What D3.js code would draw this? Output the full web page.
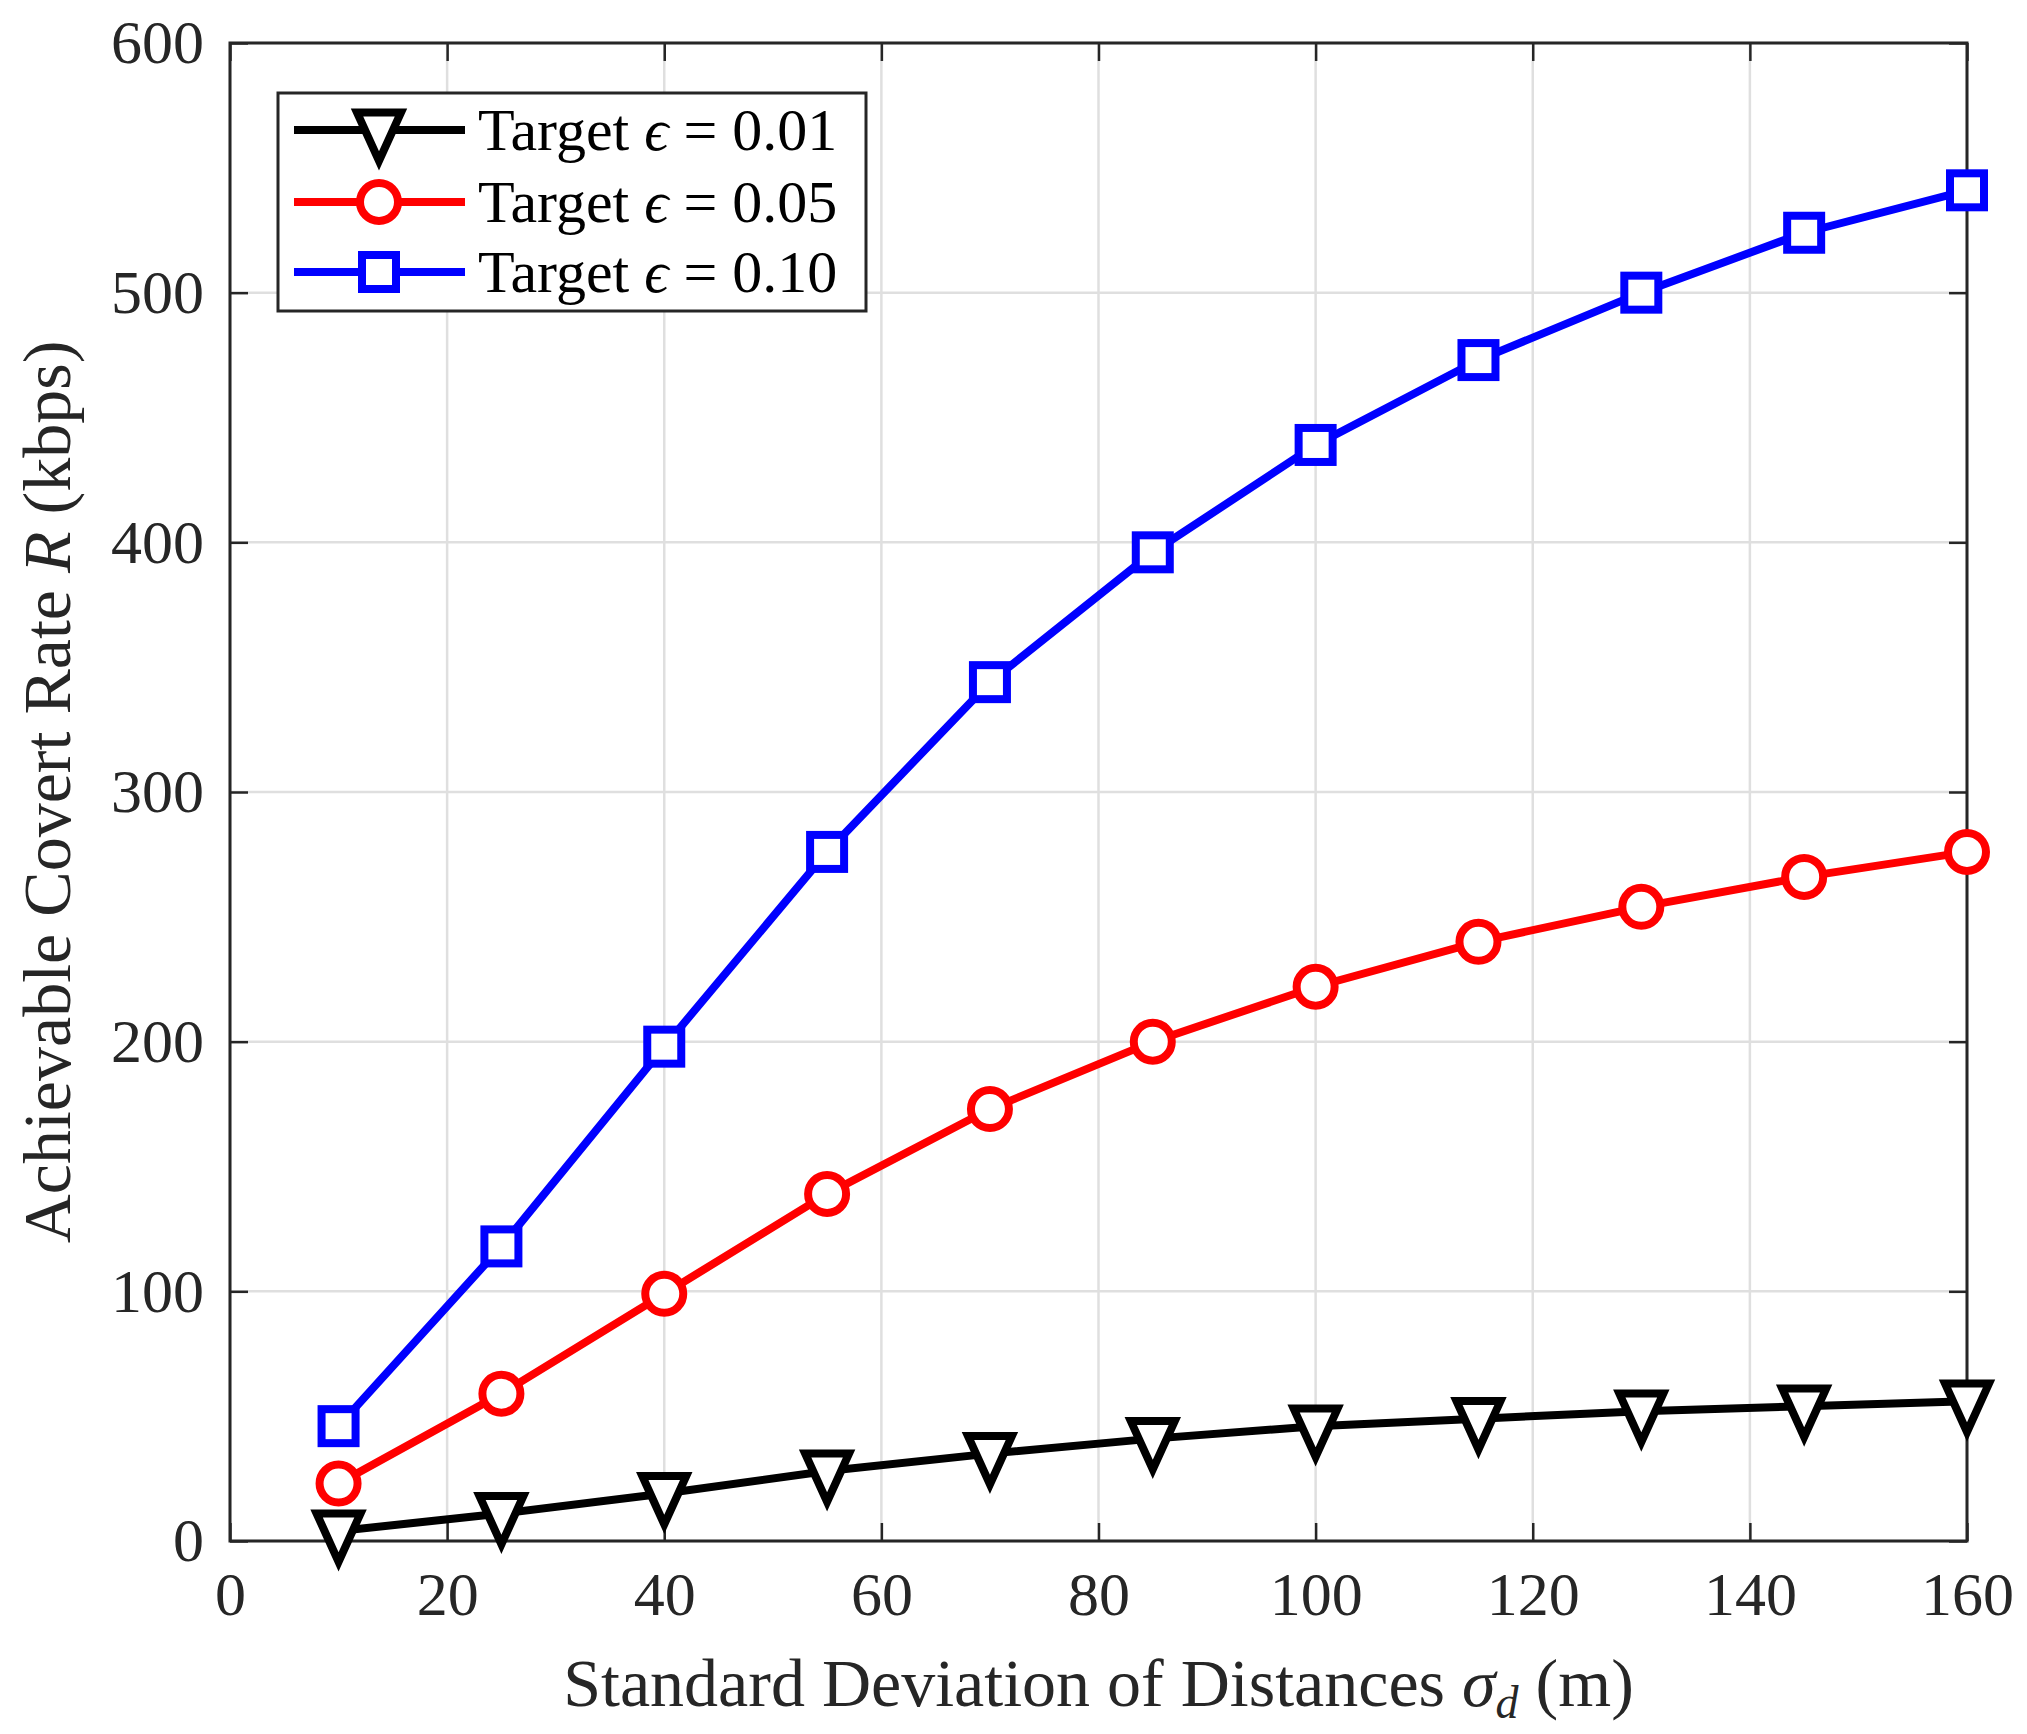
<!DOCTYPE html>
<html><head><meta charset="utf-8">
<script src="https://cdn.jsdelivr.net/npm/d3@7"></script>
<style>body{margin:0;background:#fff}svg text{font-family:"Liberation Serif","DejaVu Serif",serif;fill:#262626}</style>
</head><body><svg id="c" width="2027" height="1734"></svg>
<script>
const xs=[10,25,40,55,70,85,100,115,130,145,160];
const s001=[4,11,19,28,35,41,46,49,52,54,56];
const s005=[23,59,99,139,173,200,222,240,254,266,276];
const s010=[46,118,198,276,344,396,439,473,500,524,541];
const xTicks=[0,20,40,60,80,100,120,140,160];
const yTicks=[0,100,200,300,400,500,600];
const labels=["0.01","0.05","0.10"];
const colors=["#000","#ff0000","#0000ff"];
const markers=["tri","circ","sq"];

const L=230,R=1967,T=43,B=1541;
const SW=8;
const svg=d3.select("#c");
const x=d3.scaleLinear().domain([0,160]).range([L,R]);
const y=d3.scaleLinear().domain([0,600]).range([B,T]);
const g=svg.append("g");
xTicks.forEach(t=>g.append("line").attr("x1",x(t)).attr("x2",x(t)).attr("y1",T).attr("y2",B).attr("stroke","#dfdfdf").attr("stroke-width",2.5));
yTicks.forEach(t=>g.append("line").attr("y1",y(t)).attr("y2",y(t)).attr("x1",L).attr("x2",R).attr("stroke","#dfdfdf").attr("stroke-width",2.5));
const ax=(gen,tr)=>svg.append("g").attr("transform",tr).call(gen);
const style=s=>{s.select(".domain").remove();s.selectAll("line").attr("stroke","#262626").attr("stroke-width",2.5);s.selectAll("text").attr("font-size",62).style("font-family","'Liberation Serif',serif").attr("fill","#262626");};
ax(d3.axisBottom(x).tickValues(xTicks).tickSize(-18).tickPadding(30),`translate(0,${B})`).call(style);
ax(d3.axisTop(x).tickValues(xTicks).tickSize(-18).tickFormat(""),`translate(0,${T})`).call(style);
ax(d3.axisLeft(y).tickValues(yTicks).tickSize(-18).tickPadding(26),`translate(${L},0)`).call(style);
ax(d3.axisRight(y).tickValues(yTicks).tickSize(-18).tickFormat(""),`translate(${R},0)`).call(style);
svg.append("rect").attr("x",L).attr("y",T).attr("width",R-L).attr("height",B-T).attr("fill","none").attr("stroke","#262626").attr("stroke-width",3);

function marker(sel,type,c,px,py){
  if(type==="tri"){const s=22;sel.append("path").attr("d",`M${px-s},${py-s*0.8}L${px+s},${py-s*0.8}L${px},${py+s*1.4}Z`).attr("fill","#fff").attr("stroke",c).attr("stroke-width",SW);}
  else if(type==="circ"){sel.append("circle").attr("cx",px).attr("cy",py).attr("r",19).attr("fill","#fff").attr("stroke",c).attr("stroke-width",SW);}
  else {sel.append("rect").attr("x",px-17).attr("y",py-17).attr("width",34).attr("height",34).attr("fill","#fff").attr("stroke",c).attr("stroke-width",SW);}
}
const line=d3.line().x((d,i)=>x(xs[i])).y(d=>y(d));
[s001,s005,s010].forEach((s,k)=>{
  svg.append("path").attr("d",line(s)).attr("fill","none").attr("stroke",colors[k]).attr("stroke-width",SW);
  s.forEach((v,i)=>marker(svg,markers[k],colors[k],x(xs[i]),y(v)));
});
svg.append("rect").attr("x",278).attr("y",93).attr("width",588).attr("height",218).attr("fill","#fff").attr("stroke","#262626").attr("stroke-width",3);
[130,202,272].forEach((ly,k)=>{
  svg.append("line").attr("x1",294).attr("x2",465).attr("y1",ly).attr("y2",ly).attr("stroke",colors[k]).attr("stroke-width",SW);
  marker(svg,markers[k],colors[k],379,ly);
  const t=svg.append("text").attr("x",478).attr("y",ly+20).attr("font-size",60).style("fill","#000");
  t.append("tspan").text("Target ");
  t.append("tspan").attr("font-style","italic").text("ϵ");
  t.append("tspan").text(" = "+labels[k]);
});
const xl=svg.append("text").attr("x",(L+R)/2).attr("y",1706).attr("text-anchor","middle").attr("font-size",68);
xl.append("tspan").text("Standard Deviation of Distances ");
xl.append("tspan").attr("font-style","italic").text("σ");
xl.append("tspan").attr("font-style","italic").attr("font-size",46).attr("dy",12).text("d");
xl.append("tspan").attr("dy",-12).text(" (m)");
const yl=svg.append("text").attr("transform",`translate(70,${(T+B)/2}) rotate(-90)`).attr("text-anchor","middle").attr("font-size",68);
yl.append("tspan").text("Achievable Covert Rate ");
yl.append("tspan").attr("font-style","italic").text("R");
yl.append("tspan").text(" (kbps)");
</script></body></html>
